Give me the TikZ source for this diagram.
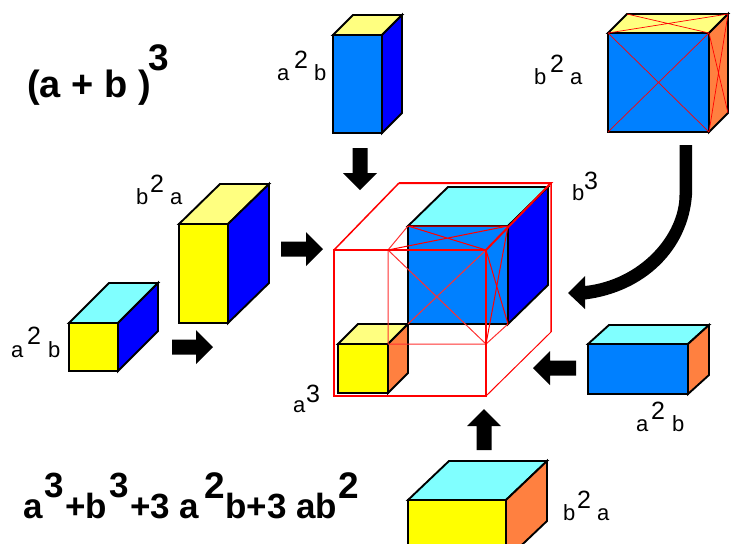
\documentclass[tikz,border=0pt]{standalone}
\usepackage{fontspec}
\setmainfont{Liberation Sans}
\definecolor{cyanT}{HTML}{80FFFF}
\definecolor{yelT}{HTML}{FFFF80}
\definecolor{blueF}{HTML}{0080FF}
\definecolor{blueS}{HTML}{0000FF}
\definecolor{oraS}{HTML}{FF8040}
\definecolor{yelF}{HTML}{FFFF00}
\definecolor{lightred}{HTML}{FF3030}
\tikzset{
 boxedge/.style={draw=black,line width=1.9pt,line join=miter},
 wire/.style={draw=red,line width=1pt},
 wirefat/.style={draw=red,line width=2pt},
 wirepale/.style={draw=lightred,line width=1pt},
 lab/.style={anchor=base west,inner sep=0pt,font=\fontsize{22}{22}\selectfont},
 labsup/.style={anchor=base west,inner sep=0pt,font=\fontsize{25}{25}\selectfont},
 big/.style={anchor=base west,inner sep=0pt,font=\fontsize{35}{35}\selectfont\bfseries},
 bigsup/.style={anchor=base west,inner sep=0pt,font=\fontsize{37}{37}\selectfont\bfseries},
 arrowfill/.style={fill=black,draw=none}
}
% x y w h dx dy top front side
\newcommand{\cuboid}[9]{%
 \filldraw[boxedge,fill=#7] (#1,#2) -- ++(#5,-#6) -- ++(#3,0) -- ++(-#5,#6) -- cycle;
 \filldraw[boxedge,fill=#9] (#1+#3,#2) -- ++(#5,-#6) -- ++(0,#4) -- ++(-#5,#6) -- cycle;
 \filldraw[boxedge,fill=#8] (#1,#2) rectangle ++(#3,#4);
}
% tail x, tail y, angle, length
\newcommand{\blockarrow}[4]{%
 \fill[arrowfill,shift={(#1,#2)},rotate=#3] (0,-7.5) -- (#4-17,-7.5) -- (#4-17,-17) -- (#4,0) -- (#4-17,17) -- (#4-17,7.5) -- (0,7.5) -- cycle;
}
\begin{document}
\begin{tikzpicture}[x=1pt,y=-1pt]
\useasboundingbox (0,0) rectangle (737,544);
\begin{scope}
\clip (0,0) rectangle (737,544);
\cuboid{333}{35}{49}{98}{20}{20}{yelT}{blueF}{blueS}
\cuboid{608}{33}{101}{99}{19}{19}{yelT}{blueF}{oraS}
\cuboid{179}{224}{49}{99}{41}{40}{yelT}{yelF}{blueS}
\cuboid{69}{323}{49}{48}{40}{40}{cyanT}{yelF}{blueS}
\cuboid{408}{226}{100}{98}{40}{39}{cyanT}{blueF}{blueS}
\cuboid{338}{344}{50}{49}{20}{20}{yelT}{yelF}{oraS}
\cuboid{588}{344}{100}{50}{21}{19}{cyanT}{blueF}{oraS}
\cuboid{408}{500}{98}{60}{41}{39}{cyanT}{yelF}{oraS}
\end{scope}
% red crosses on the top-right cuboid
\draw[red,line width=0.7pt] (608,33) -- (709,132) (608,132) -- (709,33)
  (608,33) -- (728,14) (627,14) -- (709,33)
  (709,33) -- (728,113) (728,14) -- (709,132);
% wire cube
\draw[wirepale] (388,250) -- (408,226) (486,344) -- (508,324) (388,344) -- (486,344) (388,250) -- (388,344);
\draw[wirepale] (388,250) -- (486,344) (408,324) -- (486,250);
\draw[wire] (408,226) -- (486,250) (508,226) -- (388,250) (486,250) -- (508,324) (508,226) -- (486,344) (408,226) -- (508,226);
\draw[wire] (486,396) -- (551,332) (486,250) -- (486,396);
\draw[wirefat,line width=1.5pt] (334,250) -- (399,183) (551,183) -- (551,332);
\draw[wirefat] (334,250) rectangle (486,396);
\draw[wirefat,line join=miter] (399,183) -- (551,183) -- (486,250);
% arrows
\blockarrow{360}{148}{-90}{42}
\blockarrow{281}{249}{0}{42}
\blockarrow{172}{347}{0}{41}
\blockarrow{576}{368}{180}{43}
\blockarrow{484}{450}{90}{41}
% curved arrow
\fill[arrowfill] (679.5,145) -- (692,145) -- (692,195)
 .. controls (688,250) and (645,292) .. (585,299.5) -- (585,309) -- (568,293) -- (585,276) -- (585,286)
 .. controls (640,280) and (679.5,235) .. (679.5,195) -- cycle;
% texts
\node[big,font=\fontsize{38}{38}\selectfont\bfseries] (t1) at (27,97) {(a + b )};
\node[bigsup] (t2) at (148,70) {3};
\node[big] (f1) at (23,518) {a};
\node[big] (f2) at (44,497) {3};
\node[big] (f3) at (65,518) {+b};
\node[big] (f4) at (109,497) {3};
\node[big] (f5) at (130,518) {+3 a};
\node[bigsup] (f6) at (204,498) {2};
\node[big] (f7) at (225,518) {b+3 ab};
\node[bigsup] (f8) at (338,498) {2};
% labels: lower, superscript, lower
\node[lab] (a1) at (277,80) {a}; \node[labsup] (a2) at (294,68) {2}; \node[lab] (a3) at (314,80) {b};
\node[lab] (b1) at (534,84) {b}; \node[labsup] (b2) at (550,72) {2}; \node[lab] (b3) at (570,84) {a};
\node[lab] (c1) at (136,204) {b}; \node[labsup] (c2) at (150,192) {2}; \node[lab] (c3) at (170,204) {a};
\node[lab] (d1) at (11,357) {a}; \node[labsup] (d2) at (27,344) {2}; \node[lab] (d3) at (48,357) {b};
\node[lab] (e1) at (572,200) {b}; \node[labsup] (e2) at (584,189) {3};
\node[lab] (g1) at (293,412) {a}; \node[labsup] (g2) at (306,402) {3};
\node[lab] (h1) at (636,431) {a}; \node[labsup] (h2) at (651,419) {2}; \node[lab] (h3) at (672,431) {b};
\node[lab] (i1) at (563,520) {b}; \node[labsup] (i2) at (577,508) {2}; \node[lab] (i3) at (597,520) {a};
\end{tikzpicture}
\end{document}
